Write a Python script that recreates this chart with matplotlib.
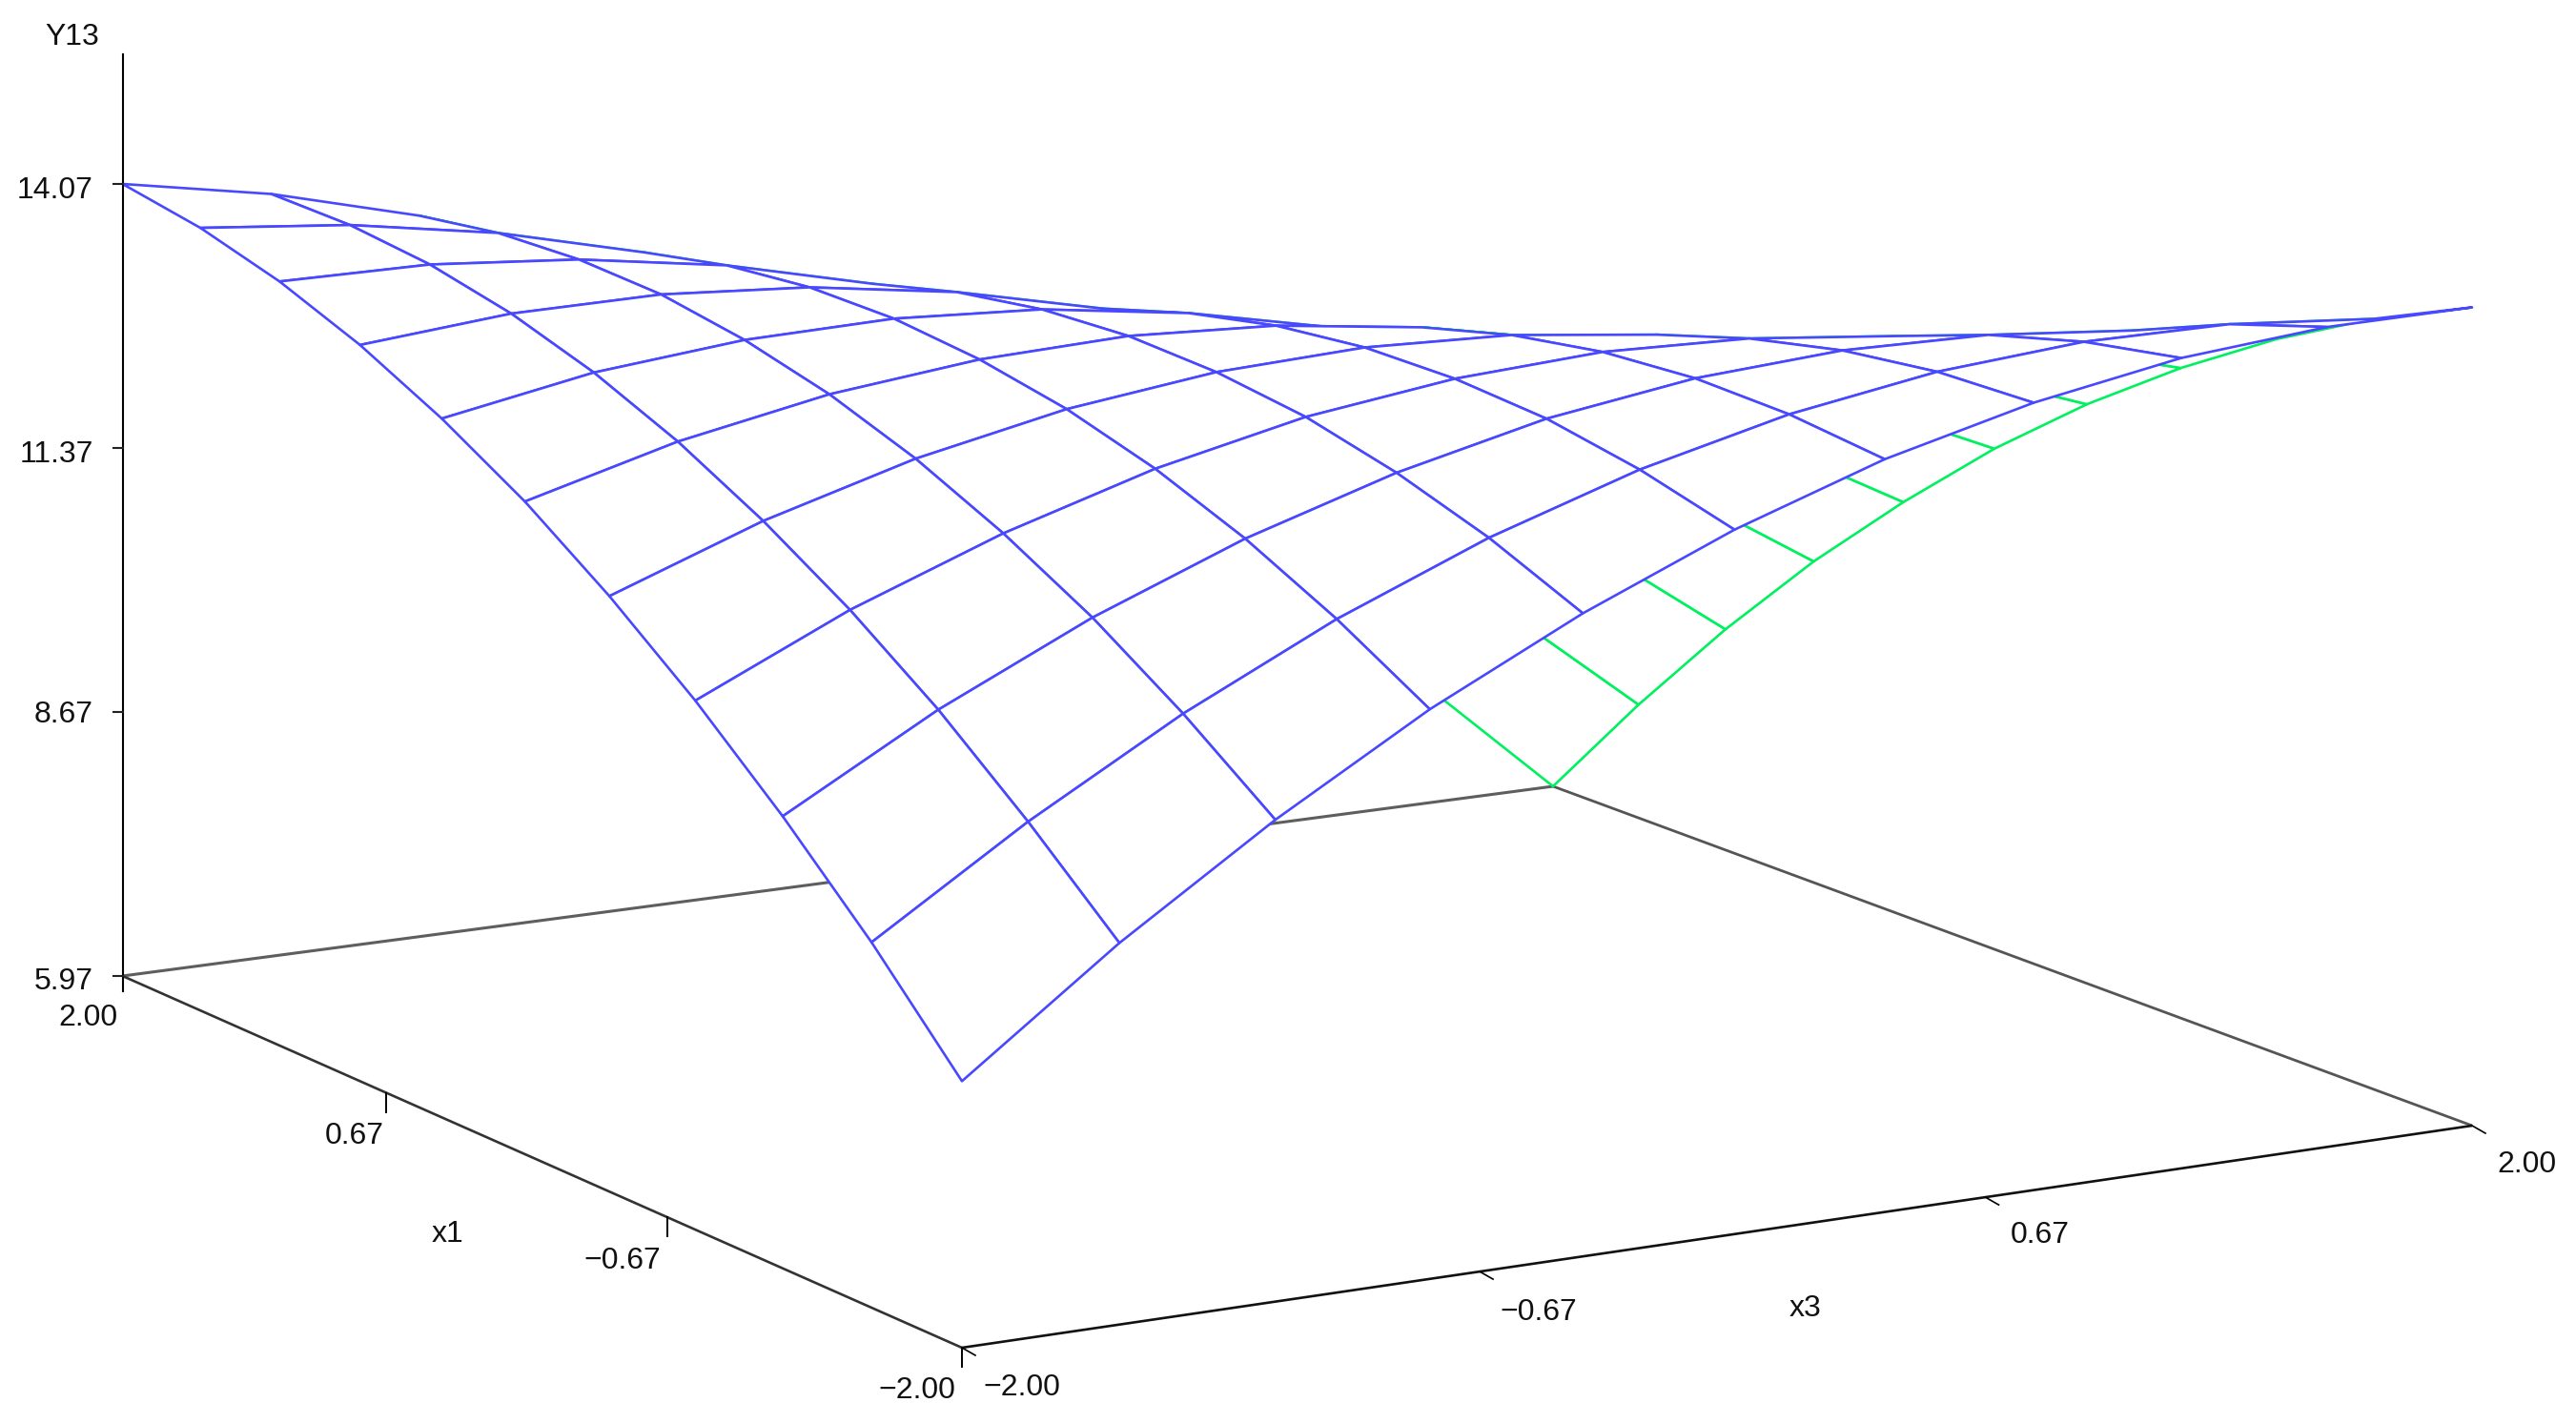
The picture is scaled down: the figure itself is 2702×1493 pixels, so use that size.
import numpy as np
import matplotlib
matplotlib.use('Agg')
import matplotlib.pyplot as plt
from matplotlib.collections import PolyCollection

plt.rcParams['font.family'] = ['Liberation Sans', 'DejaVu Sans']

W, H = 2702, 1493

# grid of the response surface
x1 = [2.0, 1.6, 1.2, 0.8, 0.4, 0.0, -0.4, -0.8, -1.2, -1.6, -2.0]
x3 = [-2.0, -1.6, -1.2, -0.8, -0.4, 0.0, 0.4, 0.8, 1.2, 1.6, 2.0]
y13 = [
    [14.07, 13.80, 13.41, 12.90, 12.27, 11.52, 10.65, 9.66, 8.55, 7.32, 5.97],
    [13.91, 13.77, 13.52, 13.15, 12.65, 12.04, 11.31, 10.45, 9.48, 8.39, 7.17],
    [13.66, 13.66, 13.54, 13.31, 12.95, 12.47, 11.88, 11.16, 10.32, 9.37, 8.29],
    [13.32, 13.46, 13.48, 13.38, 13.16, 12.82, 12.36, 11.78, 11.08, 10.26, 9.32],
    [12.89, 13.17, 13.32, 13.36, 13.28, 13.07, 12.75, 12.31, 11.74, 11.06, 10.25],
    [12.38, 12.79, 13.08, 13.25, 13.31, 13.24, 13.05, 12.75, 12.32, 11.77, 11.11],
    [11.77, 12.32, 12.75, 13.06, 13.25, 13.32, 13.27, 13.10, 12.81, 12.40, 11.87],
    [11.08, 11.77, 12.33, 12.78, 13.11, 13.31, 13.40, 13.36, 13.21, 12.94, 12.54],
    [10.30, 11.13, 11.83, 12.41, 12.87, 13.22, 13.44, 13.54, 13.52, 13.39, 13.13],
    [9.44, 10.39, 11.23, 11.95, 12.55, 13.03, 13.39, 13.63, 13.75, 13.75, 13.63],
    [8.48, 9.58, 10.55, 11.41, 12.14, 12.76, 13.26, 13.63, 13.89, 14.02, 14.04],
]

y_ticks = [14.07, 11.37, 8.67, 5.97]
x1_ticks = [2.0, 0.67, -0.67, -2.0]
x3_ticks = [-2.0, -0.67, 0.67, 2.0]
y_min, y_max = 5.97, 14.07

# floor corners on the canvas, in pixels
L = (128.5, 1024)
B = (1009, 1414)
R = (2593, 1181)
K = (1629, 825)
y_px = (L[1] - 193) / (y_max - y_min)

# square -> floor homography
dx1, dx2, sx = B[0] - R[0], K[0] - R[0], L[0] - B[0] + R[0] - K[0]
dy1, dy2, sy = B[1] - R[1], K[1] - R[1], L[1] - B[1] + R[1] - K[1]
den = dx1 * dy2 - dx2 * dy1
g = (sx * dy2 - dx2 * sy) / den
h = (dx1 * sy - sx * dy1) / den
a, b = B[0] - L[0] + g * B[0], K[0] - L[0] + h * K[0]
d, e = B[1] - L[1] + g * B[1], K[1] - L[1] + h * K[1]


def project(v1, v3, y=y_min):
    s = (2.0 - np.asarray(v1, dtype=float)) / 4.0
    t = (np.asarray(v3, dtype=float) + 2.0) / 4.0
    w = g * s + h * t + 1
    px = (a * s + b * t + L[0]) / w
    py = (d * s + e * t + L[1] - y_px * (np.asarray(y, dtype=float) - y_min)) / w
    return px, py


fig = plt.figure(figsize=(W / 100, H / 100), dpi=100)
ax = fig.add_axes([0, 0, 1, 1])
ax.set_xlim(0, W)
ax.set_ylim(H, 0)
ax.axis('off')

# floor
def floor_line(p, q, color, lw):
    px, py = project([p[0], q[0]], [p[1], q[1]])
    ax.plot(px, py, color=color, lw=lw, solid_capstyle='butt', zorder=1)

floor_line((2, -2), (2, 2), '#5e5e5e', 2.2)
floor_line((2, 2), (-2, 2), '#555555', 2.0)
floor_line((2, -2), (-2, -2), '#333333', 1.9)
floor_line((-2, -2), (-2, 2), '#111111', 1.9)

# y axis
ax.plot([L[0], L[0]], [57, L[1] + 16], color='black', lw=1.5, zorder=5)
for v in y_ticks:
    yy = L[1] - y_px * (v - y_min)
    ax.plot([L[0] - 10, L[0]], [yy, yy], color='#222222', lw=1.5, zorder=5)

# ticks on the floor
for v in x1_ticks[1:]:
    px, py = project(v, -2.0)
    ax.plot([px, px], [py, py + 20], color='black', lw=1.4, zorder=1)
for v in x3_ticks:
    px, py = project(-2.0, v)
    ax.plot([px, px + 14], [py, py + 8], color='black', lw=1.2, zorder=1)

# surface, far corner first so nearer cells hide what is behind them
X1, X3 = np.meshgrid(x1, x3, indexing='ij')
PX, PY = project(X1, X3, np.array(y13))
cells, edges = [], []
for i in range(len(x1) - 1):
    for j in range(len(x3) - 2, -1, -1):
        qx = [PX[i, j], PX[i + 1, j], PX[i + 1, j + 1], PX[i, j + 1]]
        qy = [PY[i, j], PY[i + 1, j], PY[i + 1, j + 1], PY[i, j + 1]]
        area = 0.5 * sum(qx[k] * qy[(k + 1) % 4] - qx[(k + 1) % 4] * qy[k] for k in range(4))
        cells.append(list(zip(qx, qy)))
        # screen y points down, top side of the surface has negative area here
        edges.append('#4848ff' if area < 0 else '#00f060')

ax.add_collection(PolyCollection(cells, facecolors='white', edgecolors=edges,
                                 linewidths=1.9, zorder=2))

# text
font = dict(fontsize=23, color='#111111', ha='center', va='center', zorder=6)
ax.text(76, 39, 'Y13', **font)
for v, yy in zip(y_ticks, [200, 477, 750, 1030]):
    ax.text(98, yy, f'{v:.2f}', fontsize=23, color='#111111', ha='right', va='center')
x1_pos = [(92, 1068), (372, 1192), (653, 1323), (962, 1459)]
x3_pos = [(1072, 1456), (1614, 1377), (2140, 1296), (2650, 1222)]
for v, (tx, ty) in zip(x1_ticks, x1_pos):
    ax.text(tx, ty, f'{v:.2f}'.replace('-', '\u2212'), **font)
for v, (tx, ty) in zip(x3_ticks, x3_pos):
    ax.text(tx, ty, f'{v:.2f}'.replace('-', '\u2212'), **font)
ax.text(470, 1295, 'x1', **font)
ax.text(1894, 1373, 'x3', **font)

fig.savefig('out.png', dpi=100, facecolor='white')
